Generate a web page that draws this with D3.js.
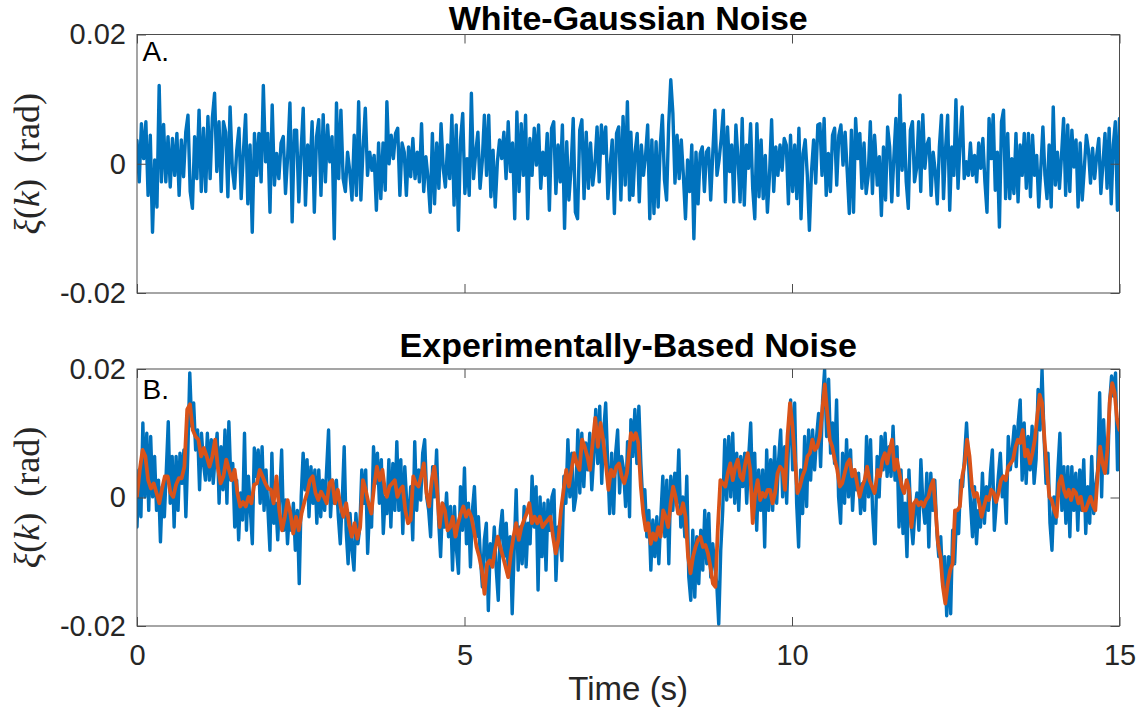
<!DOCTYPE html>
<html>
<head>
<meta charset="utf-8">
<script src="https://cdn.jsdelivr.net/npm/d3@7/dist/d3.min.js"></script>
<style>
  html, body { margin: 0; padding: 0; background: #fff; }
  svg { display: block; }
</style>
</head>
<body>
<svg id="chart" width="1143" height="715"></svg>
<script>
// Each series is stored in four consecutive blocks; every block is sampled
// evenly over the time span (s) listed here.
const blockSpans = [[0, 3.79], [3.815, 7.52], [7.54, 11.26], [11.27, 15]];

// A. White-Gaussian noise, xi(k) in mrad
const whiteNoise1 = [3.6,-2.8,6.2,0.8,6.5,-4.9,4.4,-10.6,0.6,-6.7,12.1,-2.8,6.1,-2.8,4.2,-3.6,3.9,-1.8,4.7,-4.9,3.7,-2.0,4.9,7.5,-4.3,-6.9,4.2,-2.3,8.3,-4.3,5.5,-4.3,7.3,-2.3,7.1,10.9,-1.2,6.5,-4.3,6.5,4.9,-5.1,8.8,-0.7,-3.8,2.1,5.5,-5.4,1.8,7.6,-6.2,2.9,-10.6,4.7,-1.8,4.7,-2.8,12.1,0.3,4.7,-7.5,9.1,-3.3,1.6,-2.3,3.2,4.2,-4.6,1.3,9.4,-9.0,5.2,5.2,-5.9,1.8,8.6,-6.4,2.9,-1.8,6.5,-7.5,4.2,6.8,-4.9,7.6,-2.8,6.0,0.3,4.2,-11.6,9.4,-2.3,8.3,-2.3,-4.3,1.8,-1.2,-5.6,4.4,-4.9,9.6,-5.6,2.4,8.6,-1.8,1.8,-1.0,1.3,-7.2,3.2,-5.4,3.2,-4.1];
const whiteNoise2 = [9.6,0,4.4,0.8,4.7,5.5,-4.9,3.2,1.8,-4.9,2.6,-2.0,3.9,-2.3,1.8,-2.8,6.2,-4.3,1.1,-2.3,-7.5,4.7,-6.2,3.2,-3.8,6.2,-0.7,-3.6,2.9,-2.3,7.5,-6.4,6.0,-10.3,3.7,7.8,-4.6,0.8,-4.9,10.9,-2.3,1.8,4.9,-3.8,0.3,7.5,-1.8,7.5,-5.1,2.1,-6.7,0.3,3.7,0.8,4.9,-2.3,6.5,-1.2,3.2,-8.5,8.0,-4.3,6.2,-1.8,7.5,-8.5,3.9,-1.8,5.5,-0.2,6.0,-3.8,1.8,-1.8,4.7,-7.2,5.5,6.5,-4.6,2.9,-2.8,6.0,-10.0,3.4,-5.6,-0.7,7.0,-7.5,-8.5,5.2,6.8,-5.4,4.9,-3.8,3.2,-3.3,-0.2,5.7,-2.8,6.0,1.6,5.7,-5.4,-0.5,3.7,-7.7,4.7,5.7,-5.6,7.3,-3.3,9.6,-5.6];
const whiteNoise3 = [4.9,-4.9,1.8,4.7,-5.9,2.9,-1.8,1.3,6.0,-8.5,3.7,-7.7,3.4,-6.7,2.9,7.5,-2.5,-5.6,6.0,13.0,7.8,-3.0,4.4,-2.3,3.7,-1.8,-8.5,0.6,-4.3,2.9,-11.6,1.8,-6.2,1.6,2.6,-4.3,1.8,2.4,-5.6,1.6,8.3,-1.8,0.6,3.9,8.3,-5.9,5.7,-1.2,2.9,-5.9,6.0,0.8,-5.9,7.0,-6.4,2.9,-0.7,6.2,-3.8,-8.5,6.2,-5.1,3.7,-5.4,1.3,-7.5,-1.8,6.8,-4.3,2.6,-1.8,2.9,-1.0,3.9,2.9,-6.2,4.4,-4.3,2.9,-5.4,5.5,-8.5,1.6,3.7,-1.8,-10.3,-1.2,3.7,-3.0,6.0,6.2,-1.8,7.0,-4.9,1.6,-4.3,4.4,5.5,-3.3,4.4,6.0,-0.2,4.9,-1.2,-7.7,5.2,-7.5,7.0,0.8,4.7,-3.8,3.2,-4.6,-1.8,6.5,-4.6,4.4];
const whiteNoise4 = [2.9,-3.3,1.1,-8.0,2.6,-5.6,5.7,2.6,-5.9,0.8,7.0,-4.9,10.6,-1.0,6.2,-2.8,-6.9,5.2,6.5,-2.8,-0.7,6.5,-4.3,7.6,-0.7,2.9,3.9,-4.9,1.8,-1.2,-6.2,2.6,7.5,-5.4,2.4,7.5,-7.2,2.6,-1.8,9.9,-3.8,3.4,8.8,-2.3,0.3,-1.8,3.2,-1.8,1.3,-2.8,3.2,-0.7,3.9,-2.8,-7.5,7.0,0.8,7.6,-4.1,1.8,-9.8,6.5,8.3,-5.4,4.7,-5.4,0.8,-4.6,4.7,-5.9,2.9,-1.8,4.7,-3.8,4.7,-5.1,4.4,-1.8,1.3,-6.7,-0.7,5.7,-1.8,-5.4,2.9,-6.7,8.8,-3.3,1.8,-3.8,1.3,7.0,-4.9,6.0,-4.3,5.2,-0.5,3.7,-6.7,3.2,-5.6,-0.7,4.4,2.1,-3.0,2.4,-2.3,1.3,3.9,-4.6,0,4.7,-3.8,5.5,-6.2,2.9,6.5,-7.2,7.0];

// B. Experimentally-based noise, raw samples in mrad
const expNoise1 = [-4.6,4.3,-3.0,11.6,0.1,10.0,-2.0,9.5,0.1,6.4,-2.0,2.7,-6.9,1.7,-3.0,4.3,11.8,-0.9,6.4,-4.6,6.4,-2.0,6.9,2.2,7.4,-3.0,6.9,19.4,11.1,14.7,7.4,10.5,1.2,10.0,5.3,2.7,10.0,2.7,9.0,2.2,6.4,10.0,-0.9,7.9,1.2,10.5,-0.9,11.8,2.7,5.3,-4.6,2.7,-6.6,0.7,-3.5,10.0,-5.1,3.3,-2.0,-7.2,7.7,3.3,7.4,-0.9,7.9,-2.0,4.3,-2.0,-8.2,6.9,-4.0,-0.9,-6.6,0.1,7.4,-5.1,-0.4,-7.2,-2.0,-5.1,-0.9,-8.2,-2.0,-13.4,0.1,6.9,1.2,5.9,-3.0,4.8,-0.9,4.3,-4.0,4.3,-3.0,2.7,-2.0,4.3,10.5,-3.0,2.7,-0.9,2.7,-3.0,-7.2,-0.4,7.9,-5.1,-10.3,-2.5,-8.2,-11.3,-2.5,-7.2,-4.6,4.3,-0.9,4.3,-8.7,-1.4,-4.6,7.9,2.2,6.9,-0.9,5.9,-5.6,0.1];
const expNoise2 = [-2.5,5.9,-4.6,5.3,-2.0,8.7,-2.0,5.9,-5.6,4.8,-0.9,-3.5,1.7,-6.6,8.7,-2.0,4.3,-0.4,6.9,9.0,0.1,-2.0,-6.1,4.8,0.1,7.4,-3.5,-9.2,-0.9,-4.6,0.7,-6.1,-1.4,-11.3,-1.4,-8.2,-11.8,1.7,-5.1,4.6,-7.2,-0.9,-10.8,-2.0,1.7,-6.1,-3.0,-9.2,-13.9,-6.6,-4.0,-17.6,-7.2,-10.3,-4.6,-11.3,-16.0,-5.1,-2.0,-9.2,-4.0,-11.3,-6.1,-18.1,-8.2,1.2,-11.3,-4.6,-10.3,-1.4,-10.8,-4.0,-7.2,3.3,-4.6,1.7,-14.4,0.1,-9.2,-0.9,-11.3,-0.4,-5.1,0.1,1.2,-12.9,-4.6,-6.1,-9.8,3.3,-0.9,9.0,0.1,6.9,-2.0,0.1,10.5,0.7,10.0,1.7,8.5,4.3,10.0,1.2,6.4,13.7,5.3,14.2,2.2,10.5,14.7,5.3,-2.5,6.9,-2.5,6.9,10.5,0.7,6.4,4.3,-1.4,8.7,-3.0];
const expNoise3 = [12.1,6.4,13.7,5.3,14.2,5.3,-0.9,1.2,-6.1,-2.0,-11.3,-3.5,-9.2,-3.0,-10.3,-3.0,3.3,-6.1,2.7,-10.3,3.3,-2.0,3.8,-0.9,7.4,-4.6,0.1,-6.1,3.3,-12.4,-16.0,-5.1,-15.5,-6.1,-13.4,-5.1,-11.3,-2.0,-10.3,-2.5,-12.4,-7.2,-10.8,-13.4,-19.7,-8.2,-2.0,9.0,-0.4,9.5,0.1,10.0,-0.9,6.9,-2.0,6.4,1.7,6.9,-0.9,6.4,11.6,0.1,6.9,-5.1,4.3,-2.0,4.3,-7.7,7.4,-2.0,5.9,-2.0,7.9,-0.9,5.9,10.5,0.1,7.9,-0.9,9.0,15.2,4.3,14.7,-0.9,-7.7,4.3,-2.5,9.5,-1.4,10.5,2.7,10.5,4.3,9.5,13.1,4.8,15.2,19.9,9.5,18.4,6.9,11.6,5.3,15.2,0.1,-4.0,6.9,-0.9,9.0,0.1,7.4,-2.0,4.3,1.2,3.8,-2.5,2.2,-2.0,9.5,0.1,9.0,-2.0,-7.2];
const expNoise4 = [-7.2,6.4,0.1,9.5,4.3,10.0,3.3,7.9,3.3,11.1,2.7,7.9,-4.6,4.3,-5.6,-0.9,-9.2,4.3,-3.5,-7.2,-2.0,0.7,-5.1,5.9,-0.9,-4.0,3.8,-7.7,3.8,-2.0,2.7,-5.1,-9.2,-6.1,-13.4,-9.2,-18.4,-9.2,-18.1,-5.1,-10.3,-2.0,-5.6,2.7,1.7,6.4,11.6,5.3,-0.9,-6.1,1.7,-7.2,-2.0,-4.6,3.8,-4.0,1.7,-2.0,3.8,7.4,-5.1,-0.9,3.3,6.9,0.1,2.7,-4.0,9.5,4.3,7.4,11.1,4.8,11.6,15.2,2.7,11.6,2.2,9.5,4.3,11.1,2.2,5.9,16.8,10.5,19.9,9.5,2.2,6.9,-4.0,-8.2,0.1,-4.0,4.3,10.0,-2.0,4.8,-4.0,4.8,-6.1,4.8,-2.0,3.8,-5.1,4.3,-2.0,5.9,-5.6,1.7,-4.0,6.4,-2.5,1.7,4.3,16.3,0.1,12.1,4.3,3.8,14.7,18.9,15.8,19.4,4.3,12.1];

// B. Smoothed trace of the experimental noise, mrad
const expSmooth1 = [0.2,4.3,7.4,6.4,2.7,1.4,2.2,0.7,-0.9,1.4,3.3,3.3,0.7,0.1,2.0,3.0,3.0,4.8,13.7,14.5,10.5,9.5,9.0,6.4,7.7,6.4,4.8,6.4,9.0,4.6,2.2,3.3,5.9,4.3,2.7,4.3,0.7,-1.4,-0.7,-1.4,0.1,-0.9,2.0,2.2,4.3,3.3,2.2,1.4,1.2,-0.9,3.3,-2.0,-5.1,-3.0,-0.4,-2.5,-5.6,-3.0,-5.1,-2.5,-0.7,0.7,2.7,3.3,0.7,-0.4,0.9,0.1,-0.9,2.2,2.7,-0.9,1.2,-1.4,-3.0,-0.9,-4.0,-6.1,-4.0,-6.4,-4.6,2.7,1.2,-0.9,-2.5,1.7,4.8,2.7,4.3,0.7];
const expSmooth2 = [0.1,1.7,2.2,2.7,0.1,1.2,1.7,-2.0,-4.0,-3.5,3.3,2.2,1.7,3.3,5.3,0.7,-1.4,2.7,4.8,1.2,-4.6,-0.9,-2.0,-5.1,-4.6,-3.0,-6.1,-4.0,-2.5,-1.4,-3.0,-2.0,-3.0,-5.1,-7.7,-9.2,-11.3,-15.0,-10.3,-9.8,-10.8,-8.2,-6.1,-7.7,-9.2,-10.8,-12.4,-8.7,-6.1,-4.0,-6.6,-4.6,-3.5,-2.5,-0.9,-4.0,-3.0,-4.0,-3.0,-4.6,-4.0,-3.5,-3.0,-6.1,-8.7,-6.6,-2.0,1.2,4.3,1.7,4.3,6.9,5.3,4.3,9.0,7.9,6.4,4.3,8.5,12.4,7.9,11.6,9.0,5.3,1.2,4.3,3.3,4.8,5.3,3.3,2.2,3.8,7.9];
const expSmooth3 = [10.0,9.0,10.0,8.5,1.7,-2.5,-5.1,-4.0,-7.2,-5.6,-6.6,-4.6,-6.1,-2.0,-3.0,-4.6,-0.9,1.7,0.1,-2.5,-2.5,-0.9,-3.0,-9.2,-11.8,-9.2,-7.7,-6.6,-6.1,-7.7,-7.4,-8.7,-10.8,-13.4,-13.9,-4.6,2.7,2.2,1.7,3.8,5.3,2.7,4.8,5.9,3.3,2.7,5.3,6.9,4.3,-4.0,0.7,2.7,-0.4,0.7,0.1,1.2,1.2,-0.9,0.7,3.8,4.8,4.3,1.2,9.5,14.7,11.1,5.9,0.7,1.7,3.3,4.3,6.4,6.9,9.0,7.4,7.9,9.5,13.7,17.6,13.1,9.0,7.9,5.9,4.3,1.7,2.2,3.8,5.3,5.9,3.3,4.3,2.2,0.1,1.7,2.7,4.8,2.7,1.7,0.7];
const expSmooth4 = [1.2,4.3,3.3,5.9,6.9,5.3,7.4,9.0,4.3,5.9,3.8,1.7,0.7,2.7,1.2,-4.6,-0.9,-0.4,-1.2,-0.7,-1.4,-0.4,0.1,1.7,2.7,-2.0,-7.2,-9.2,-13.9,-16.5,-13.4,-11.3,-10.3,-2.0,-2.0,-1.4,3.3,5.3,9.0,6.4,1.7,0.1,0.7,-0.9,-3.0,-1.4,0.1,-0.4,1.2,0.7,-0.7,0.7,2.7,3.3,2.7,4.8,5.3,5.9,7.9,9.0,8.5,10.5,6.4,7.4,5.3,6.9,9.0,12.6,16.0,14.7,9.0,4.3,0.1,-0.4,-2.0,-3.0,2.2,3.3,1.2,0.1,1.2,-0.4,1.2,0.7,-0.9,0.1,-2.0,-2.0,-0.9,0.1,-1.2,-2.0,3.8,7.9,5.3,3.8,7.4,15.2,17.8,16.3,12.1,10.5];

const xTicks = [0, 5, 10, 15];
const yTicks = [-0.02, 0, 0.02];
const panelTitles = ["White-Gaussian Noise", "Experimentally-Based Noise"];
const panelLetters = ["A.", "B."];
const xLabel = "Time (s)";

// turn blocks of mrad samples into {t, v} points in rad
function toSeries(blocks) {
  const pts = [];
  blocks.forEach((vals, i) => {
    const [t0, t1] = blockSpans[i];
    const step = (t1 - t0) / (vals.length - 1);
    vals.forEach((v, j) => pts.push({ t: t0 + j * step, v: v / 1000 }));
  });
  return pts;
}

const white = toSeries([whiteNoise1, whiteNoise2, whiteNoise3, whiteNoise4]);
const expRaw = toSeries([expNoise1, expNoise2, expNoise3, expNoise4]);
const expSm = toSeries([expSmooth1, expSmooth2, expSmooth3, expSmooth4]);

const BLUE = "#0072BD", ORANGE = "#D95319";
const AXIS = "#4d4d4d", TEXT = "#262626";
const SANS = "'Liberation Sans', Arial, Helvetica, sans-serif";
const SERIF = "'Liberation Serif', 'DejaVu Serif', serif";

const svg = d3.select("#chart");
const left = 137, right = 1119.5;
const x = d3.scaleLinear().domain([0, 15]).range([left, right]);

const panels = [
  { top: 34.5, bottom: 293, series: [{ data: white, color: BLUE, w: 3.4 }], showX: false, titleY: 30, letterY: 61 },
  { top: 369, bottom: 626, series: [{ data: expRaw, color: BLUE, w: 3.4 }, { data: expSm, color: ORANGE, w: 3.8 }], showX: true, titleY: 357, letterY: 399 }
];

const fmtY = d => d === 0 ? "0" : d.toFixed(2);
const TICK = 9;

panels.forEach((p, i) => {
  const y = d3.scaleLinear().domain([-0.02, 0.02]).range([p.bottom, p.top]);
  const g = svg.append("g");
  const clipId = "clip" + i;
  svg.append("clipPath").attr("id", clipId).append("rect")
    .attr("x", left).attr("y", p.top).attr("width", right - left).attr("height", p.bottom - p.top);

  // data lines
  const line = d3.line().x(d => x(d.t)).y(d => y(d.v));
  const plot = g.append("g").attr("clip-path", `url(#${clipId})`);
  p.series.forEach(s => {
    plot.append("path").datum(s.data)
      .attr("d", line).attr("fill", "none").attr("stroke", s.color)
      .attr("stroke-width", s.w).attr("stroke-linejoin", "round").attr("stroke-linecap", "round");
  });

  // axes with inward ticks on all four sides
  const styleAxis = sel => {
    sel.select(".domain").remove();
    sel.selectAll(".tick line").attr("stroke", AXIS).attr("stroke-width", 1);
    sel.selectAll(".tick text").attr("fill", TEXT).style("font-family", SANS).style("font-size", "29px");
  };
  g.append("g").attr("transform", `translate(0,${p.bottom})`)
    .call(d3.axisBottom(x).tickValues(xTicks).tickSize(-TICK).tickPadding(p.showX ? 24 : 0)
      .tickFormat(p.showX ? d3.format("d") : () => ""))
    .call(styleAxis)
    .call(s => s.selectAll(".tick text").attr("dy", "0.71em").attr("y", 18));
  g.append("g").attr("transform", `translate(0,${p.top})`)
    .call(d3.axisTop(x).tickValues(xTicks).tickSize(-TICK).tickFormat(() => ""))
    .call(styleAxis);
  g.append("g").attr("transform", `translate(${left},0)`)
    .call(d3.axisLeft(y).tickValues(yTicks).tickSize(-TICK).tickPadding(20).tickFormat(fmtY))
    .call(styleAxis)
    .call(s => s.selectAll(".tick text").attr("x", -11));
  g.append("g").attr("transform", `translate(${right},0)`)
    .call(d3.axisRight(y).tickValues(yTicks).tickSize(-TICK).tickFormat(() => ""))
    .call(styleAxis);

  // box
  g.append("rect").attr("x", left).attr("y", p.top)
    .attr("width", right - left).attr("height", p.bottom - p.top)
    .attr("fill", "none").attr("stroke", AXIS).attr("stroke-width", 1);

  // title
  g.append("text").attr("x", (left + right) / 2).attr("y", p.titleY)
    .attr("text-anchor", "middle").style("font-family", SANS).style("font-size", "34px")
    .style("font-weight", "bold").attr("fill", "#000").text(panelTitles[i]);

  // panel letter
  g.append("text").attr("x", 142.5).attr("y", p.letterY)
    .style("font-family", SANS).style("font-size", "28px").attr("fill", "#000").text(panelLetters[i]);

  // y label  xi(k) (rad)
  const cy = (p.top + p.bottom) / 2;
  const yl = g.append("text").attr("transform", `translate(39,${cy}) rotate(-90)`)
    .attr("text-anchor", "middle").style("font-family", SERIF).style("font-size", "36px").attr("fill", TEXT);
  yl.append("tspan").style("font-style", "italic").text("ξ");
  yl.append("tspan").text("(");
  yl.append("tspan").style("font-style", "italic").text("k");
  yl.append("tspan").text(")");
  yl.append("tspan").attr("dx", "0.45em").text("(rad)");
});

// x-axis label
svg.append("text").attr("x", (left + right) / 2).attr("y", 700)
  .attr("text-anchor", "middle").style("font-family", SANS).style("font-size", "33px")
  .attr("fill", TEXT).text(xLabel);
</script>
</body>
</html>
